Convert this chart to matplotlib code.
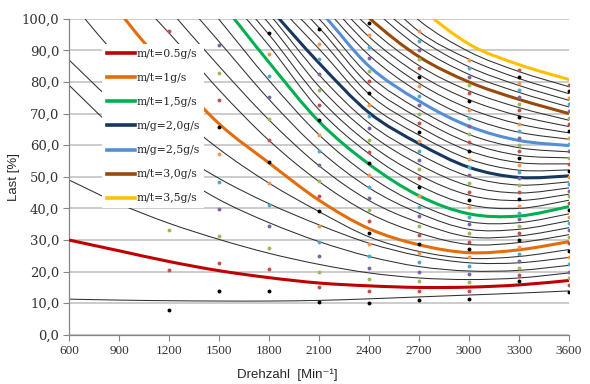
import matplotlib
matplotlib.use('Agg')
import matplotlib.pyplot as plt
from matplotlib.path import Path
from matplotlib.patches import PathPatch
from matplotlib.lines import Line2D

# ---------------------------------------------------------------
# data (load [%] at each speed column)
# ---------------------------------------------------------------
speeds = [600, 900, 1200, 1500, 1800, 2100, 2400, 2700, 3000, 3300, 3600]
N = None

# thin iso-lines, m/t = 0.4 ... 3.4 g/s (0.1 steps, except the coloured ones)
thin_04 = [11.3, 11.0, 10.8, 10.7, 10.7, 10.9, 11.4, 12.0, 12.6, 13.2, 13.9]
thin_06 = [49.0, 41.5, 35.3, 30.2, 25.8, 22.3, 19.6, 18.0, 17.5, 18.0, 19.6]
thin_07 = [79.0, 64.0, 52.5, 42.8, 35.5, 29.5, 24.8, 21.6, 20.2, 20.4, 22.0]
thin_08 = [87.0, 72.0, 59.5, 49.5, 41.5, 34.8, 29.0, 25.0, 22.8, 22.8, 24.5]
thin_09 = [106.0, 87.5, 72.0, 58.8, 48.0, 39.0, 31.0, 26.4, 24.2, 24.8, 27.0]
thin_11 = [N, 112.0, 95.5, 77.5, 61.5, 48.5, 38.5, 32.2, 28.6, 29.2, 31.7]
thin_12 = [N, N, 103.0, 85.0, 68.0, 53.5, 42.5, 35.5, 31.0, 31.3, 33.9]
thin_13 = [N, N, 111.0, 92.8, 74.5, 58.5, 46.5, 38.5, 33.4, 33.4, 36.1]
thin_14 = [N, N, 119.0, 99.8, 80.5, 63.3, 50.3, 41.3, 35.8, 35.5, 38.3]
thin_16 = [N, N, N, 110.0, 91.5, 71.2, 57.3, 47.3, 41.2, 40.0, 42.6]
thin_17 = [N, N, N, 113.0, 95.0, 74.9, 60.5, 50.6, 44.2, 42.5, 44.5]
thin_18 = [N, N, N, 116.0, 98.5, 78.6, 63.8, 53.9, 47.1, 44.9, 46.5]
thin_19 = [N, N, N, 118.0, 101.5, 82.3, 67.0, 57.2, 50.1, 47.4, 48.4]
thin_21 = [N, N, N, N, 107.0, 90.5, 73.2, 63.2, 55.6, 52.1, 52.2]
thin_22 = [N, N, N, N, 110.0, 94.0, 76.2, 65.9, 58.2, 54.5, 54.1]
thin_23 = [N, N, N, N, 113.0, 97.2, 79.1, 68.6, 60.8, 56.8, 56.0]
thin_24 = [N, N, N, N, 116.0, 100.0, 82.1, 71.3, 63.4, 59.2, 57.9]
thin_26 = [N, N, N, N, N, 105.5, 88.5, 76.8, 68.8, 64.1, 61.9]
thin_27 = [N, N, N, N, N, 108.5, 91.5, 79.6, 71.6, 66.7, 63.9]
thin_28 = [N, N, N, N, N, 111.0, 94.3, 82.4, 74.4, 69.3, 65.9]
thin_29 = [N, N, N, N, N, 113.5, 97.3, 85.2, 77.2, 71.9, 67.9]
thin_31 = [N, N, N, N, N, N, 104.0, 91.0, 82.4, 76.7, 72.1]
thin_32 = [N, N, N, N, N, N, 106.5, 93.8, 84.8, 78.9, 74.2]
thin_33 = [N, N, N, N, N, N, 111.0, 96.0, 87.2, 81.1, 76.3]
thin_34 = [N, N, N, N, N, N, 115.0, 99.5, 89.6, 83.3, 78.5]

# coloured lines
mt_05 = [30.0, 26.6, 23.2, 20.3, 18.1, 16.4, 15.5, 15.0, 15.1, 15.8, 17.2]
mt_10 = [127.0, 102.5, 83.5, 66.8, 54.4, 42.6, 33.6, 28.5, 26.0, 26.9, 29.5]
mt_15 = [N, N, 125.0, 106.0, 86.2, 67.5, 54.0, 44.0, 38.3, 37.6, 40.6]
mt_20 = [N, N, N, 120.0, 103.5, 86.0, 70.3, 60.5, 53.0, 49.8, 50.3]
mt_25 = [N, N, N, N, 118.0, 102.8, 85.0, 74.0, 66.0, 61.5, 59.9]
mt_30 = [N, N, N, N, N, 116.0, 100.3, 88.0, 80.0, 74.5, 70.0]
mt_35 = [N, N, N, N, N, N, 120.0, 104.0, 92.0, 85.5, 80.8]

labels = ['m/t=0.5g/s', 'm/t=1g/s', 'm/t=1,5g/s', 'm/g=2,0g/s',
          'm/g=2,5g/s', 'm/t=3,0g/s', 'm/t=3,5g/s']
colors = ['#C00000', '#E46C0A', '#00B050', '#17375E',
          '#558ED5', '#984807', '#FFC000']

# measured points per speed column
dot_speeds = [1200, 1500, 1800, 2100, 2400, 2700, 3000, 3300, 3600]
dots_1200 = [7.9, 20.5, 33.1, 45.7, 58.3, 70.9, 83.5, 96.1]
dots_1500 = [14.0, 22.7, 31.3, 39.9, 48.4, 57.1, 65.7, 74.4, 83.0, 91.6]
dots_1800 = [14.0, 20.8, 27.6, 34.5, 41.2, 48.2, 54.8, 61.5, 68.4, 75.2,
             82.0, 88.8, 95.6]
dots_2100 = [10.3, 15.0, 19.9, 24.8, 29.5, 34.5, 39.1, 44.0, 48.7, 53.6,
             58.3, 63.3, 68.0, 72.8, 77.5, 82.5, 87.2, 92.0, 96.7]
dots_2400 = [10.2, 13.9, 17.6, 21.3, 25.0, 28.7, 32.2, 35.9, 39.6, 43.3,
             46.9, 50.6, 54.3, 58.0, 61.7, 65.4, 69.1, 72.8, 76.5, 80.2,
             83.6, 87.5, 91.2, 94.9, 98.6]
dots_2700 = [11.1, 14.0, 16.9, 19.8, 22.9, 25.8, 28.8, 31.6, 34.6, 37.7,
             40.6, 43.8, 46.7, 49.6, 52.5, 55.4, 58.3, 61.2, 64.1, 67.0,
             69.9, 72.8, 75.7, 78.6, 81.5, 84.4, 87.3, 90.2, 93.1, 96.0]
dots_3000 = [11.4, 14.0, 16.7, 19.2, 21.8, 24.5, 27.1, 29.5, 32.2, 35.0,
             37.4, 40.3, 42.7, 45.3, 47.9, 50.5, 53.1, 55.7, 58.3, 60.9,
             63.5, 66.1, 68.7, 71.3, 73.9, 76.5, 79.1, 81.7, 84.3, 86.9]
dots_3300 = [16.9, 19.0, 21.3, 23.5, 25.6, 27.9, 30.1, 32.2, 34.5, 36.6,
             38.7, 40.9, 43.0, 45.2, 47.3, 49.5, 51.6, 53.8, 55.9, 58.1,
             60.2, 62.4, 64.5, 66.7, 68.8, 71.0, 73.1, 75.3, 77.4, 79.6,
             81.7, 83.9]
dots_3600 = [13.7, 15.8, 17.9, 20.0, 22.4, 24.5, 26.6, 29.0, 31.1, 33.2,
             35.3, 37.2, 39.6, 41.7, 43.8, 45.6, 47.7, 49.8, 51.9, 54.0,
             56.1, 58.2, 60.3, 62.4, 64.5, 66.6, 68.7, 70.8, 72.9, 75.0,
             77.1, 79.2]
dot_colors = ['#000000', '#C0504D', '#9BBB59', '#8064A2', '#4BACC6', '#F79646']

thin_lines = [thin_04, thin_06, thin_07, thin_08, thin_09, thin_11, thin_12,
              thin_13, thin_14, thin_16, thin_17, thin_18, thin_19, thin_21,
              thin_22, thin_23, thin_24, thin_26, thin_27, thin_28, thin_29,
              thin_31, thin_32, thin_33, thin_34]
thick_lines = [mt_05, mt_10, mt_15, mt_20, mt_25, mt_30, mt_35]
dot_cols = [dots_1200, dots_1500, dots_1800, dots_2100, dots_2400,
            dots_2700, dots_3000, dots_3300, dots_3600]


def smooth_path(xs, ys):
    # smoothed line like the spreadsheet does (Catmull-Rom as cubic Bezier)
    pts = [(x, y) for x, y in zip(xs, ys) if y is not None]
    verts = [pts[0]]
    codes = [Path.MOVETO]
    n = len(pts)
    for i in range(n - 1):
        p0 = pts[max(i - 1, 0)]
        p1 = pts[i]
        p2 = pts[i + 1]
        p3 = pts[min(i + 2, n - 1)]
        c1 = (p1[0] + (p2[0] - p0[0]) / 6.0, p1[1] + (p2[1] - p0[1]) / 6.0)
        c2 = (p2[0] - (p3[0] - p1[0]) / 6.0, p2[1] - (p3[1] - p1[1]) / 6.0)
        verts += [c1, c2, p2]
        codes += [Path.CURVE4] * 3
    return Path(verts, codes)


fig = plt.figure(figsize=(5.9, 3.84), dpi=100)
ax = fig.add_axes([0.117, 0.128, 0.8475, 0.823])

for ys in thin_lines:
    ax.add_patch(PathPatch(smooth_path(speeds, ys), fill=False,
                           edgecolor='#303030', lw=0.75, zorder=2))

for ys, c in zip(thick_lines, colors):
    ax.add_patch(PathPatch(smooth_path(speeds, ys), fill=False,
                           edgecolor=c, lw=2.2, zorder=3))

for x, col in zip(dot_speeds, dot_cols):
    for k, y in enumerate(col):
        ax.plot(x, y, 'o', ms=2.8, mew=0, color=dot_colors[k % 6], zorder=4)

ax.set_xlim(600, 3600)
ax.set_ylim(0, 100)
ax.set_xticks(range(600, 3601, 300))
ax.set_yticks(range(0, 101, 10))
ax.set_yticklabels(['%d,0' % v for v in range(0, 101, 10)])

ax.yaxis.grid(True, color='#BEBEBE', lw=1.1, zorder=0)
ax.set_axisbelow(True)
for s in ['top', 'right']:
    ax.spines[s].set_visible(False)
for s in ['left', 'bottom']:
    ax.spines[s].set_color('#868686')
    ax.spines[s].set_linewidth(0.9)
ax.tick_params(axis='both', direction='out', length=4, color='#868686',
               labelcolor='#333333', pad=3)
for lab in ax.get_xticklabels():
    lab.set_fontfamily('Liberation Serif')
    lab.set_fontsize(9.5)
for lab in ax.get_yticklabels():
    lab.set_fontfamily('DejaVu Serif')
    lab.set_fontsize(9.5)

ax.set_xlabel('Drehzahl  [Min⁻¹]', family=['Liberation Sans', 'DejaVu Sans'],
              fontsize=9.5, color='#262626')
ax.xaxis.set_label_coords(0.436, -0.105)
ax.set_ylabel('Last [%]', family=['Liberation Sans', 'DejaVu Sans'],
              fontsize=9.5, color='#262626')
ax.yaxis.set_label_coords(-0.098, 0.5)

handles = [Line2D([], [], color=c, lw=2.6) for c in colors]
leg = ax.legend(handles, labels, loc='upper left', bbox_to_anchor=(0.066, 0.92),
                frameon=True, facecolor='white', edgecolor='none', framealpha=1,
                fancybox=False, borderpad=0.45, handlelength=2.6,
                handletextpad=0.1, labelspacing=1.3, borderaxespad=0,
                prop={'family': 'DejaVu Serif', 'size': 7.8})
leg.set_zorder(6)
for t in leg.get_texts():
    t.set_color('#262626')

fig.savefig('out.png', dpi=100)
